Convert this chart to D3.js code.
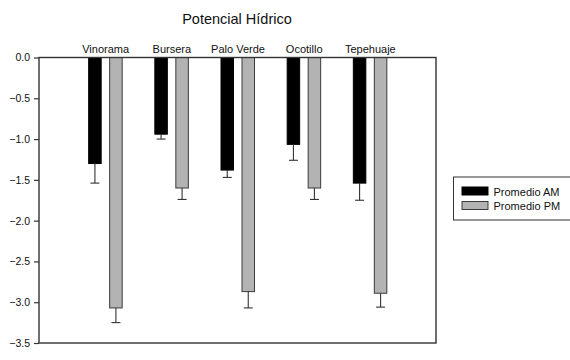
<!DOCTYPE html>
<html>
<head>
<meta charset="utf-8">
<script src="https://cdn.jsdelivr.net/npm/d3@7"></script>
<style>
  body { margin: 0; background: #fff; }
  svg { display: block; font-family: "Liberation Sans", Arial, sans-serif; }
</style>
</head>
<body>
<svg id="chart" width="570" height="360"></svg>
<script>
// values
const species = ['Vinorama', 'Bursera', 'Palo Verde', 'Ocotillo', 'Tepehuaje'];
const meanAM = [-1.30, -0.94, -1.38, -1.065, -1.54];
const meanPM = [-3.07, -1.60, -2.87, -1.60, -2.89];
const errAM = [0.24, 0.06, 0.09, 0.195, 0.21];
const errPM = [0.18, 0.14, 0.20, 0.14, 0.17];
const yTicks = [0, -0.5, -1.0, -1.5, -2.0, -2.5, -3.0, -3.5];
const seriesNames = ['Promedio AM', 'Promedio PM'];
const seriesColors = ['#000000', '#b3b3b3'];

const svg = d3.select('#chart');
const plot = {left: 39, right: 436, top: 57.5, bottom: 343};

const x = d3.scalePoint()
  .domain(species)
  .range([plot.left, plot.right])
  .padding(1);

const y = d3.scaleLinear()
  .domain([0, -3.5])
  .range([plot.top, plot.bottom]);

const barW = 12.5;
const offsets = [-16.5, 4.5];

// title
svg.append('text')
  .attr('x', 237)
  .attr('y', 24)
  .attr('text-anchor', 'middle')
  .attr('font-size', 14.5)
  .attr('fill', '#111')
  .text('Potencial Hídrico');

// bars
const series = [meanAM, meanPM];
const errs = [errAM, errPM];
series.forEach((vals, s) => {
  const g = svg.append('g').attr('class', 'series-' + s);
  g.selectAll('rect')
    .data(vals)
    .enter()
    .append('rect')
    .attr('x', (d, i) => x(species[i]) + offsets[s])
    .attr('y', y(0))
    .attr('width', barW)
    .attr('height', d => y(d) - y(0))
    .attr('fill', seriesColors[s])
    .attr('stroke', s == 0 ? '#000' : '#3a3a3a')
    .attr('stroke-width', 1);

  // error bars, downward only
  const eg = g.append('g').attr('stroke', '#333').attr('stroke-width', 1.1);
  vals.forEach((d, i) => {
    const cx = x(species[i]) + offsets[s] + barW / 2;
    eg.append('line')
      .attr('x1', cx).attr('x2', cx)
      .attr('y1', y(d)).attr('y2', y(d - errs[s][i]));
    eg.append('line')
      .attr('x1', cx - 4.5).attr('x2', cx + 4.5)
      .attr('y1', y(d - errs[s][i])).attr('y2', y(d - errs[s][i]));
  });
});

// frame
svg.append('rect')
  .attr('x', plot.left)
  .attr('y', plot.top)
  .attr('width', plot.right - plot.left)
  .attr('height', plot.bottom - plot.top)
  .attr('fill', 'none')
  .attr('stroke', '#333')
  .attr('stroke-width', 1.4);

// y axis
const yAxis = d3.axisLeft(y)
  .tickValues(yTicks)
  .tickSize(5)
  .tickPadding(4)
  .tickFormat(d3.format('.1f'));

const gy = svg.append('g')
  .attr('transform', `translate(${plot.left},0)`)
  .call(yAxis);
gy.select('.domain').remove();
gy.selectAll('line').attr('stroke', '#333').attr('stroke-width', 1.2);
gy.selectAll('text').attr('font-size', 10.5).attr('fill', '#111')
  .attr('font-family', '"Liberation Sans", Arial, sans-serif');

// category labels on top
const xAxis = d3.axisTop(x).tickSize(0).tickPadding(5);
const gx = svg.append('g')
  .attr('transform', `translate(0,${plot.top})`)
  .call(xAxis);
gx.select('.domain').remove();
gx.selectAll('text').attr('font-size', 11).attr('fill', '#111')
  .attr('font-family', '"Liberation Sans", Arial, sans-serif');

// legend
const lg = svg.append('g').attr('transform', 'translate(453.5,177)');
lg.append('rect')
  .attr('width', 130).attr('height', 43)
  .attr('fill', '#fff')
  .attr('stroke', '#333').attr('stroke-width', 1);
seriesNames.forEach((name, i) => {
  lg.append('rect')
    .attr('x', 8.5).attr('y', 10 + i * 14.5)
    .attr('width', 26).attr('height', 8)
    .attr('fill', seriesColors[i])
    .attr('stroke', i == 0 ? '#000' : '#3a3a3a');
  lg.append('text')
    .attr('x', 40).attr('y', 18.5 + i * 14.5)
    .attr('font-size', 11)
    .attr('fill', '#111')
    .text(name);
});
</script>
</body>
</html>
